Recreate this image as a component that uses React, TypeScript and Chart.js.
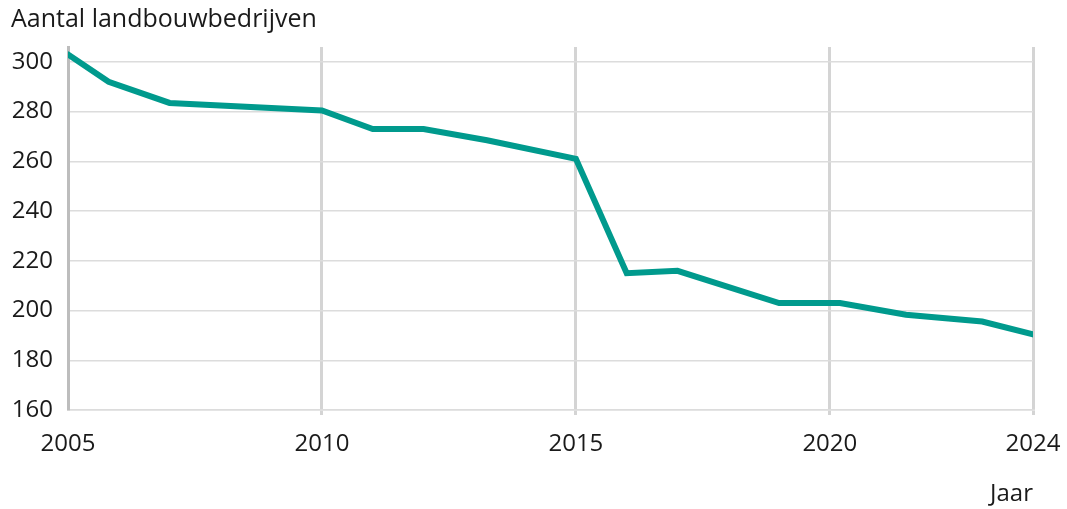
import React, { useEffect, useRef } from "react";
import { Chart, registerables } from "chart.js";

Chart.register(...registerables);

const years = [2005, 2005.8, 2007, 2010, 2011, 2012, 2013.25, 2015, 2016, 2017, 2019, 2020.2, 2021.5, 2023, 2024];
const farms = [303, 292, 283.5, 280.5, 273, 273, 268.5, 261, 215, 216, 203, 203, 198.3, 195.6, 190.4];
const xTickValues = [2005, 2010, 2015, 2020, 2024];
const yTitleText = "Aantal landbouwbedrijven";
const xTitleText = "Jaar";

const FONT = "'Open Sans', 'Noto Sans', sans-serif";

export default function App() {
  const ref = useRef<HTMLCanvasElement | null>(null);

  useEffect(() => {
    if (!ref.current) return;
    const chart = new Chart(ref.current, {
      type: "line",
      data: {
        datasets: [
          {
            data: years.map((y, i) => ({ x: y, y: farms[i] })),
            borderColor: "#009a8d",
            borderWidth: 6,
            borderCapStyle: "round",
            borderJoinStyle: "miter",
            pointRadius: 0,
            tension: 0,
            fill: false,
          },
        ],
      },
      options: {
        animation: false,
        responsive: false,
        devicePixelRatio: 1,
        layout: { padding: { left: 11, right: 0, top: 0, bottom: 0 } },
        plugins: {
          legend: { display: false },
          tooltip: { enabled: false },
          title: {
            display: true,
            text: yTitleText,
            align: "start",
            color: "#1a1a1a",
            font: { family: FONT, size: 25, weight: "normal" },
            padding: { top: 5, bottom: 12 },
          },
        },
        scales: {
          x: {
            type: "linear",
            min: 2005,
            max: 2024,
            afterBuildTicks: (scale: any) => {
              scale.ticks = xTickValues.map((v) => ({ value: v }));
            },
            afterFit: (s: any) => {
              s.height = 99;
              s.paddingLeft = 0;
              s.paddingRight = 34;
            },
            ticks: {
              autoSkip: false,
              maxRotation: 0,
              color: "#1a1a1a",
              padding: 15,
              font: { family: FONT, size: 24 },
              callback: (v: any) => String(v),
            },
            grid: {
              color: (ctx: any) => (ctx.tick && ctx.tick.value === 2005 ? "rgba(0,0,0,0)" : "#d4d4d4"),
              lineWidth: 3,
              tickLength: 5,
              drawTicks: true,
            },
            border: { color: "#dcdcdc", width: 1.5 },
            title: {
              display: true,
              text: xTitleText,
              align: "end",
              color: "#1a1a1a",
              font: { family: FONT, size: 24 },
              padding: { top: 21, bottom: 0 },
            },
          },
          y: {
            type: "linear",
            min: 160,
            max: 306,
            afterFit: (s: any) => {
              s.width = 57;
              s.paddingTop = 0;
              s.paddingBottom = 0;
            },
            ticks: {
              stepSize: 20,
              includeBounds: false,
              color: "#1a1a1a",
              padding: 15,
              font: { family: FONT, size: 24 },
              callback: (v: any) => String(v),
            },
            grid: {
              color: "#dcdcdc",
              lineWidth: 1.5,
              drawTicks: false,
            },
            border: { color: "#bdbdbd", width: 3 },
          },
        },
      },
    });
    return () => chart.destroy();
  }, []);

  return (
    <div style={{ position: "absolute", left: 0, top: 0, width: 1067, height: 509, background: "#fff" }}>
      <canvas ref={ref} width={1067} height={509} style={{ display: "block" }} />
    </div>
  );
}
